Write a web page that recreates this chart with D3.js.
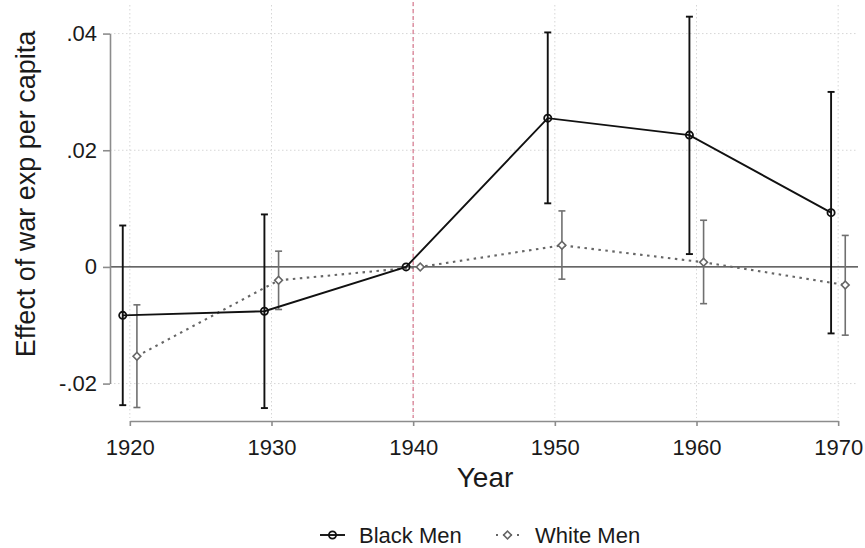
<!DOCTYPE html>
<html><head><meta charset="utf-8">
<script src="https://cdn.jsdelivr.net/npm/d3@7"></script>
<style>body{margin:0;background:#fff}svg{display:block}text{font-family:"Liberation Sans",Arial,sans-serif}</style>
</head><body><svg id="c" width="865" height="548"></svg>
<script>
const years = [1920, 1930, 1940, 1950, 1960, 1970];
const blackEst = [-0.0083, -0.0076, 0, 0.0255, 0.0226, 0.0093];
const blackLo  = [-0.0237, -0.0242, null, 0.0109, 0.0022, -0.0114];
const blackHi  = [0.0071, 0.0090, null, 0.0402, 0.0429, 0.0300];
const whiteEst = [-0.0153, -0.0023, 0, 0.0037, 0.0008, -0.0031];
const whiteLo  = [-0.0241, -0.0073, null, -0.0021, -0.0063, -0.0117];
const whiteHi  = [-0.0065, 0.0027, null, 0.0096, 0.0080, 0.0054];
const yTicks = [-0.02, 0, 0.02, 0.04];
const yTickLabels = ["-.02", "0", ".02", ".04"];
const seriesNames = ["Black Men", "White Men"];
const eventYear = 1940;

const svg = d3.select("#c");
const x = d3.scaleLinear().domain([1918.6, 1971.4]).range([110, 858]);
const y = d3.scaleLinear().domain([-0.0259, 0.0449]).range([418, 5]);
const off = 0.5;

// grid
const g = svg.append("g");
g.selectAll(".hg").data(yTicks.filter(v => v !== 0)).enter().append("line")
  .attr("x1", 110).attr("x2", 858).attr("y1", d => y(d)).attr("y2", d => y(d))
  .attr("stroke", "#d6d6d6").attr("stroke-width", 1).attr("stroke-dasharray", "1.5,2.5");
g.selectAll(".vg").data(years).enter().append("line")
  .attr("x1", d => x(d)).attr("x2", d => x(d)).attr("y1", 5).attr("y2", 418)
  .attr("stroke", "#d6d6d6").attr("stroke-width", 1).attr("stroke-dasharray", "1.5,2.5");

// zero line
svg.append("line").attr("x1", 110).attr("x2", 858).attr("y1", y(0)).attr("y2", y(0))
  .attr("stroke", "#333").attr("stroke-width", 1.4);
// event line
svg.append("line").attr("x1", x(eventYear)).attr("x2", x(eventYear)).attr("y1", 2).attr("y2", 418)
  .attr("stroke", "#d98195").attr("stroke-width", 1.3).attr("stroke-dasharray", "4,3");

// axes
const yAx = d3.scaleLinear().domain([-0.02, 0.04]).range([y(-0.02), y(0.04)]);
const ya = svg.append("g").attr("transform", "translate(110,0)")
  .call(d3.axisLeft(yAx).tickValues(yTicks).tickSize(7).tickSizeOuter(0).tickPadding(6)
    .tickFormat((d, i) => yTickLabels[i]));
const xAx = d3.scaleLinear().domain([1920, 1970]).range([x(1920), x(1970)]);
const xa = svg.append("g").attr("transform", "translate(0,421)")
  .call(d3.axisBottom(xAx).tickValues(years).tickSize(5).tickSizeOuter(0).tickPadding(13)
    .tickFormat(d3.format("d")));
[ya, xa].forEach(a => {
  a.select(".domain").attr("stroke", "#8c8c8c").attr("stroke-width", 1.6);
  a.selectAll(".tick line").attr("stroke", "#8c8c8c").attr("stroke-width", 1.6);
  a.selectAll("text").attr("fill", "#1a1a1a").style("font-size", "22px");
});

// titles
svg.append("text").attr("transform", "translate(35,194) rotate(-90)").attr("text-anchor", "middle")
  .style("font-size", "27px").attr("fill", "#1a1a1a").text("Effect of war exp per capita");
svg.append("text").attr("x", 485).attr("y", 487).attr("text-anchor", "middle")
  .style("font-size", "28px").attr("fill", "#1a1a1a").text("Year");

// series
function drawSeries(est, lo, hi, dx, color, lw, dash, errColor, errW, marker) {
  const pts = years.map((yr, i) => ({yr: yr + dx, v: est[i], lo: lo[i], hi: hi[i]}));
  const eb = pts.filter(p => p.lo !== null);
  const eg = svg.append("g").attr("stroke", errColor).attr("stroke-width", errW);
  eg.selectAll(".v").data(eb).enter().append("line")
    .attr("x1", p => x(p.yr)).attr("x2", p => x(p.yr)).attr("y1", p => y(p.lo)).attr("y2", p => y(p.hi));
  eg.selectAll(".c1").data(eb).enter().append("line")
    .attr("x1", p => x(p.yr) - 3.5).attr("x2", p => x(p.yr) + 3.5).attr("y1", p => y(p.lo)).attr("y2", p => y(p.lo));
  eg.selectAll(".c2").data(eb).enter().append("line")
    .attr("x1", p => x(p.yr) - 3.5).attr("x2", p => x(p.yr) + 3.5).attr("y1", p => y(p.hi)).attr("y2", p => y(p.hi));
  const line = d3.line().x(p => x(p.yr)).y(p => y(p.v));
  svg.append("path").datum(pts).attr("d", line).attr("fill", "none").attr("stroke", color)
    .attr("stroke-width", lw).attr("stroke-dasharray", dash);
  const mg = svg.append("g");
  pts.forEach(p => marker(mg, x(p.yr), y(p.v)));
}
function circleMarker(gr, cx, cy) {
  gr.append("circle").attr("cx", cx).attr("cy", cy).attr("r", 3.6)
    .attr("fill", "none").attr("stroke", "#111").attr("stroke-width", 1.8);
}
function diamondMarker(gr, cx, cy) {
  gr.append("path").attr("d", d3.symbol(d3.symbolSquare, 30)())
    .attr("transform", `translate(${cx},${cy}) rotate(45)`)
    .attr("fill", "#fff").attr("stroke", "#666").attr("stroke-width", 1.6);
}
drawSeries(whiteEst, whiteLo, whiteHi, off, "#666", 2.1, "2.5,4.5", "#707070", 1.6, diamondMarker);
drawSeries(blackEst, blackLo, blackHi, -off, "#111", 1.9, null, "#111", 1.9, circleMarker);

// legend
const lg = svg.append("g");
lg.append("line").attr("x1", 320).attr("x2", 345).attr("y1", 535).attr("y2", 535)
  .attr("stroke", "#111").attr("stroke-width", 1.9);
circleMarker(lg, 332.5, 535);
lg.append("text").attr("x", 359).attr("y", 542.5).style("font-size", "22px").attr("fill", "#1a1a1a").text(seriesNames[0]);
lg.append("line").attr("x1", 496).attr("x2", 519).attr("y1", 535).attr("y2", 535)
  .attr("stroke", "#666").attr("stroke-width", 2).attr("stroke-dasharray", "2,5");
diamondMarker(lg, 507.5, 535);
lg.append("text").attr("x", 535).attr("y", 542.5).style("font-size", "22px").attr("fill", "#1a1a1a").text(seriesNames[1]);
</script></body></html>
